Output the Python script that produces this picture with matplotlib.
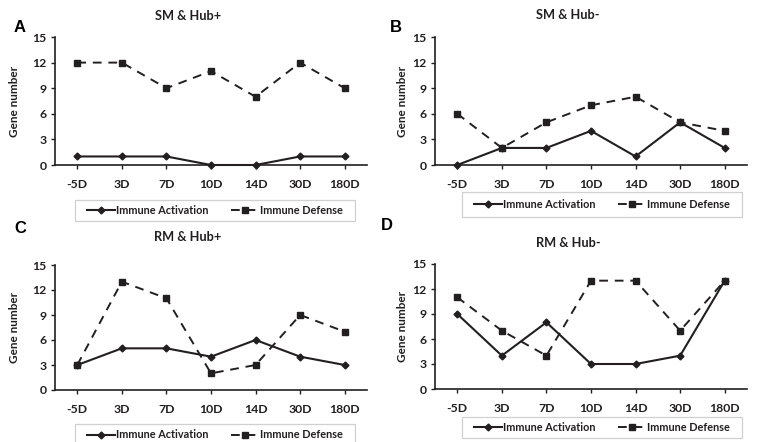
import matplotlib
matplotlib.use('Agg')
import matplotlib.pyplot as plt
from matplotlib.patches import Rectangle

days = ['-5D', '3D', '7D', '10D', '14D', '30D', '180D']
panel_letters = ['A', 'B', 'C', 'D']
panel_titles = ['SM & Hub+', 'SM & Hub-', 'RM & Hub+', 'RM & Hub-']

activation_A = [1, 1, 1, 0, 0, 1, 1]
defense_A = [12, 12, 9, 11, 8, 12, 9]
activation_B = [0, 2, 2, 4, 1, 5, 2]
defense_B = [6, 2, 5, 7, 8, 5, 4]
activation_C = [3, 5, 5, 4, 6, 4, 3]
defense_C = [3, 13, 11, 2, 3, 9, 7]
activation_D = [9, 4, 8, 3, 3, 4, 13]
defense_D = [11, 7, 4, 13, 13, 7, 13]

activation = [activation_A, activation_B, activation_C, activation_D]
defense = [defense_A, defense_B, defense_C, defense_D]
yticks = [0, 3, 6, 9, 12, 15]

plt.rcParams['font.family'] = ['Lato', 'DejaVu Sans']
INK = '#231f20'
W, H = 760, 442

def fx(px):
    return px / W

def fy(py):
    return 1 - py / H

fig = plt.figure(figsize=(7.6, 4.42), dpi=100)

# pixel layout: (left, right, y of 0, y of 15)
axes_px = [(55, 367, 165, 37), (435, 747, 165, 37), (55, 367, 390, 265), (435, 747, 389, 264)]
title_px = [(188, 16), (568, 15), (188, 237), (568, 243)]
letter_px = [(20, 27), (396, 27), (20, 228), (387, 226)]
ylabel_px = [(15, 101), (402, 101), (15, 327), (402, 326)]
legend_px = [(75, 200, 355, 221), (462, 192, 742, 217), (75, 424, 355, 446), (462, 417, 742, 438)]

x = list(range(len(days)))
for i in range(4):
    l, r, b, t = axes_px[i]
    ax = fig.add_axes([fx(l), fy(b), fx(r) - fx(l), fy(t) - fy(b)])
    ha, = ax.plot(x, activation[i], color=INK, lw=1.5, marker='D', ms=3.5,
                  label='Immune Activation')
    hd, = ax.plot(x, defense[i], color=INK, lw=1.4, ls=(0, (4.5, 3.5)), marker='s', ms=5,
                  label='Immune Defense')
    ax.set_xlim(-0.5, 6.5)
    ax.set_ylim(0, 15)
    ax.set_xticks(x)
    ax.set_xticklabels(days, fontsize=8.8, fontweight='bold', color=INK)
    ax.set_yticks(yticks)
    ax.set_yticklabels([str(v) for v in yticks], fontsize=8.8, fontweight='bold', color=INK)
    for s in ['top', 'right']:
        ax.spines[s].set_visible(False)
    for s in ['left', 'bottom']:
        ax.spines[s].set_color(INK)
        ax.spines[s].set_linewidth(1.2)
    ax.tick_params(axis='x', direction='out', length=3, width=1, color=INK, pad=7)
    ax.tick_params(axis='y', direction='out', length=3, width=1, color=INK, pad=3)
    for ln in ax.lines:
        ln.set_clip_on(False)

    tx, ty = title_px[i]
    fig.text(fx(tx), fy(ty), panel_titles[i], ha='center', va='center',
             fontsize=9.2, fontweight='bold', color=INK)
    lx, ly = letter_px[i]
    fig.text(fx(lx), fy(ly), panel_letters[i], ha='center', va='center',
             fontsize=12, fontweight='bold', color='black', family='Liberation Sans')
    yx, yy = ylabel_px[i]
    fig.text(fx(yx), fy(yy), 'Gene number', ha='center', va='center', rotation=90,
             fontsize=8.5, fontweight='bold', color=INK)

    # legend box in figure pixels, legend entries centred inside it
    x0, y0, x1, y1 = legend_px[i]
    fig.patches.append(Rectangle((fx(x0), fy(y1)), fx(x1) - fx(x0), fy(y0) - fy(y1),
                                 transform=fig.transFigure, fill=False,
                                 edgecolor='#d0d0d0', lw=0.9))
    leg = fig.legend(handles=[ha, hd], loc='center', ncol=2,
                     bbox_to_anchor=(fx((x0 + x1) / 2), fy((y0 + y1) / 2)),
                     fontsize=7.8, frameon=False, handlelength=2.6,
                     handletextpad=0.15, columnspacing=2.0, borderpad=0)
    for txt in leg.get_texts():
        txt.set_fontweight('bold')
        txt.set_color(INK)

fig.savefig('out.png', dpi=100)
